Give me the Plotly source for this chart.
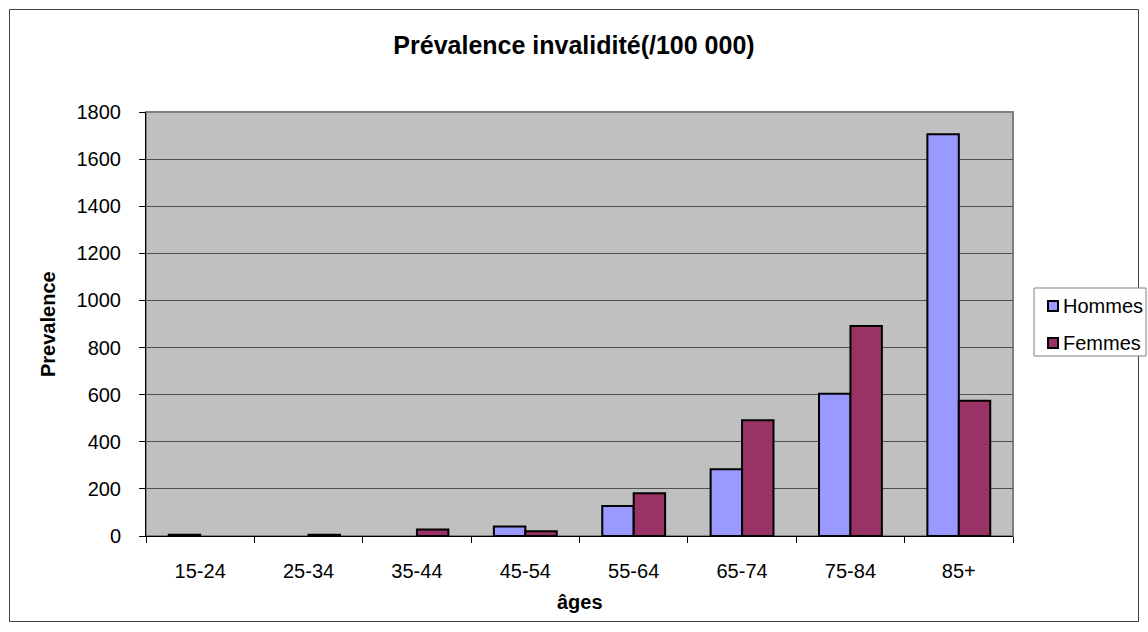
import plotly.graph_objects as go

categories = ["15-24", "25-34", "35-44", "45-54", "55-64", "65-74", "75-84", "85+"]
hommes = [5, None, None, 40, 127, 283, 604, 1706]
femmes = [None, 5, 28, 20, 182, 491, 891, 574]
y_ticks = [0, 200, 400, 600, 800, 1000, 1200, 1400, 1600, 1800]
series_names = ["Hommes", "Femmes"]
series_colors = ["#9999FF", "#993366"]

W, H = 1148, 632
L, R, T, B = 146, 135, 112, 96
pw, ph = W - L - R, H - T - B

def px_x(p):
    return (p - L) / pw

def px_y(p):
    return (H - B - p) / ph

font = "Liberation Sans, Arial, sans-serif"
FS = 20

fig = go.Figure()
for name, vals, col in zip(series_names, [hommes, femmes], series_colors):
    fig.add_trace(go.Bar(name=name, x=categories, y=vals,
                         marker=dict(color=col, line=dict(color="black", width=2))))

fig.update_layout(
    width=W, height=H,
    margin=dict(l=L, r=R, t=T, b=B),
    paper_bgcolor="white", plot_bgcolor="#C0C0C0",
    barmode="group", bargap=0.42, bargroupgap=0,
    font=dict(family=font, size=FS, color="black"),
    title=dict(text="<b>Prévalence invalidité(/100 000)</b>", x=0.5, xanchor="center",
               y=1 - 45 / H, yanchor="middle", font=dict(size=25, family=font)),
    showlegend=False,
    xaxis=dict(showline=True, linecolor="black", linewidth=1,
               ticks="outside", ticklen=6, tickcolor="black", tickson="boundaries",
               ticklabelstandoff=17,
               showgrid=False, range=[-0.5, 7.5]),
    yaxis=dict(range=[0, 1800], tickvals=y_ticks, showline=True, linecolor="black", linewidth=1,
               ticks="outside", ticklen=6, tickcolor="black", ticklabelstandoff=14,
               showgrid=True, gridcolor="#505050", gridwidth=1, zeroline=False),
)

# axis titles
fig.add_annotation(text="<b>âges</b>", xref="paper", yref="paper", x=0.5, y=px_y(602),
                   xanchor="center", yanchor="middle", showarrow=False, font=dict(size=FS))
fig.add_annotation(text="<b>Prevalence</b>", xref="paper", yref="paper", x=px_x(48), y=0.5,
                   xanchor="center", yanchor="middle", textangle=-90, showarrow=False,
                   font=dict(size=FS))

# plot area border (grey top/right)
fig.add_shape(type="rect", xref="paper", yref="paper", x0=0, y0=0, x1=1, y1=1,
              line=dict(color="#808080", width=2), layer="below")
# outer chart border
fig.add_shape(type="rect", xref="paper", yref="paper",
              x0=px_x(9.5), x1=px_x(1138.5), y0=px_y(621.5), y1=px_y(9.5),
              line=dict(color="#404040", width=1))

# legend box
fig.add_shape(type="rect", xref="paper", yref="paper",
              x0=px_x(1034), x1=px_x(1146), y0=px_y(356), y1=px_y(288),
              line=dict(color="#808080", width=1), fillcolor="white")
for i, (name, col) in enumerate(zip(series_names, series_colors)):
    cy = 306 + i * 37
    fig.add_shape(type="rect", xref="paper", yref="paper",
                  x0=px_x(1048), x1=px_x(1058), y0=px_y(cy + 5), y1=px_y(cy - 5),
                  line=dict(color="black", width=2), fillcolor=col)
    fig.add_annotation(text=name, xref="paper", yref="paper", x=px_x(1061), y=px_y(cy),
                       xanchor="left", yanchor="middle", showarrow=False,
                       font=dict(size=FS))

fig.write_html("out.html")
